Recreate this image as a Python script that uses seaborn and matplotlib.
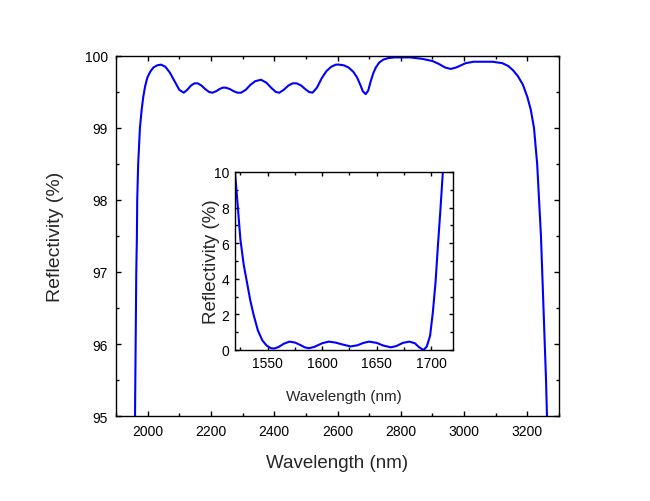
import numpy as np
import pandas as pd
import matplotlib
matplotlib.use("Agg")
import matplotlib.pyplot as plt
from matplotlib.ticker import MultipleLocator
import seaborn as sns

# main curve: wavelength (nm) vs reflectivity (%)
wl_main = [1959, 1960, 1962, 1964, 1966, 1967, 1970, 1975.5, 1981, 1986, 1992, 1999,
           2008, 2018, 2030, 2042, 2056, 2070, 2085, 2100, 2114, 2125, 2137, 2148,
           2158, 2170, 2182, 2194, 2205, 2216, 2227, 2237, 2247, 2260, 2272, 2284,
           2295, 2310, 2325, 2340, 2358, 2375, 2390, 2405, 2416, 2430, 2445, 2458,
           2471, 2485, 2498, 2510, 2521, 2535, 2550, 2565, 2580, 2595, 2605, 2620,
           2635, 2650, 2662, 2672, 2680, 2689, 2697, 2705, 2713, 2721, 2732, 2745,
           2760, 2780, 2800, 2830, 2868, 2900, 2920, 2940, 2958, 2975, 2990, 3005,
           3030, 3058, 3090, 3121, 3140, 3155, 3170, 3186, 3200, 3211, 3221, 3231,
           3237, 3243, 3247, 3251, 3255, 3259, 3262, 3263]
refl_main = [94.8, 95.0, 96.0, 97.0, 97.5, 98.0, 98.5, 99.0, 99.25, 99.43, 99.58, 99.7,
             99.78, 99.84, 99.87, 99.88, 99.85, 99.77, 99.65, 99.53, 99.49, 99.53, 99.59, 99.62,
             99.62, 99.59, 99.54, 99.50, 99.49, 99.51, 99.54, 99.56, 99.56, 99.54, 99.51, 99.49,
             99.49, 99.53, 99.60, 99.65, 99.67, 99.63, 99.56, 99.50, 99.49, 99.53, 99.59, 99.62,
             99.62, 99.59, 99.54, 99.50, 99.49, 99.56, 99.69, 99.79, 99.85, 99.88, 99.88, 99.87,
             99.84, 99.78, 99.70, 99.60, 99.51, 99.47, 99.52, 99.65, 99.76, 99.84, 99.91, 99.95,
             99.97, 99.98, 99.98, 99.98, 99.96, 99.93, 99.89, 99.84, 99.82, 99.84, 99.87, 99.90,
             99.92, 99.92, 99.92, 99.90, 99.86, 99.80, 99.72, 99.60, 99.43, 99.25, 99.0, 98.5,
             98.0, 97.5, 97.0, 96.5, 96.0, 95.5, 95.0, 94.8]

# inset curve
wl_inset = [1519, 1520, 1522, 1525, 1528, 1531, 1534, 1537, 1541, 1545, 1549, 1553,
            1556, 1560, 1565, 1570, 1575, 1580, 1584, 1588, 1593, 1600, 1606, 1612,
            1618, 1626, 1632, 1638, 1643, 1650, 1656, 1663, 1668, 1674, 1680, 1685,
            1689, 1693, 1696, 1699, 1701.5, 1704, 1706, 1708.5, 1710.7, 1711.5]
refl_inset = [10.6, 10.0, 8.5, 6.2, 4.8, 3.8, 2.8, 2.0, 1.1, 0.55, 0.25, 0.1,
              0.08, 0.17, 0.36, 0.47, 0.42, 0.28, 0.15, 0.10, 0.18, 0.38, 0.47, 0.42,
              0.32, 0.20, 0.26, 0.40, 0.47, 0.40, 0.25, 0.15, 0.22, 0.40, 0.47, 0.38,
              0.15, 0.0, 0.2, 0.8, 2.1, 3.8, 5.7, 7.9, 10.0, 10.8]

main_df = pd.DataFrame({"wl": wl_main, "R": refl_main})
inset_df = pd.DataFrame({"wl": wl_inset, "R": refl_inset})

sns.set_style("ticks")
plt.rcParams["font.family"] = ["Liberation Sans", "DejaVu Sans"]
plt.rcParams["xtick.direction"] = "in"
plt.rcParams["ytick.direction"] = "in"
plt.rcParams["axes.edgecolor"] = "black"
plt.rcParams["axes.linewidth"] = 1.0

fig = plt.figure(figsize=(6.5, 5.02), dpi=100)
ax = fig.add_axes([0.1785, 0.1693, 0.6815, 0.7172])
sns.lineplot(data=main_df, x="wl", y="R", ax=ax, color="#0000ff", lw=1.5,
             sort=False, estimator=None)
ax.set_xlim(1900, 3300)
ax.set_ylim(95, 100)
ax.xaxis.set_major_locator(MultipleLocator(200))
ax.xaxis.set_minor_locator(MultipleLocator(100))
ax.yaxis.set_major_locator(MultipleLocator(1))
ax.yaxis.set_minor_locator(MultipleLocator(0.5))
ax.tick_params(which="both", top=True, right=True, colors="black", labelsize=10, width=1)
ax.tick_params(which="major", length=3.5, pad=6)
ax.tick_params(which="minor", length=2)
ax.set_xlabel("Wavelength (nm)", fontsize=13.5, labelpad=11)
ax.set_ylabel("Reflectivity (%)", fontsize=14, labelpad=15)

ins = fig.add_axes([0.3615, 0.3008, 0.3354, 0.3546])
sns.lineplot(data=inset_df, x="wl", y="R", ax=ins, color="#0000ff", lw=1.5,
             sort=False, estimator=None)
ins.set_xlim(1520, 1720)
ins.set_ylim(0, 10)
ins.xaxis.set_major_locator(MultipleLocator(50))
ins.xaxis.set_minor_locator(MultipleLocator(25))
ins.yaxis.set_major_locator(MultipleLocator(2))
ins.yaxis.set_minor_locator(MultipleLocator(1))
ins.tick_params(which="both", top=True, right=True, colors="black", labelsize=10, width=1)
ins.tick_params(which="major", length=3, pad=4)
ins.tick_params(which="minor", length=2)
ins.set_xlabel("Wavelength (nm)", fontsize=11, labelpad=14)
ins.set_ylabel("Reflectivity (%)", fontsize=13.5)
ins.yaxis.set_label_coords(-0.07, 0.5)

fig.savefig("out.png", dpi=100)
